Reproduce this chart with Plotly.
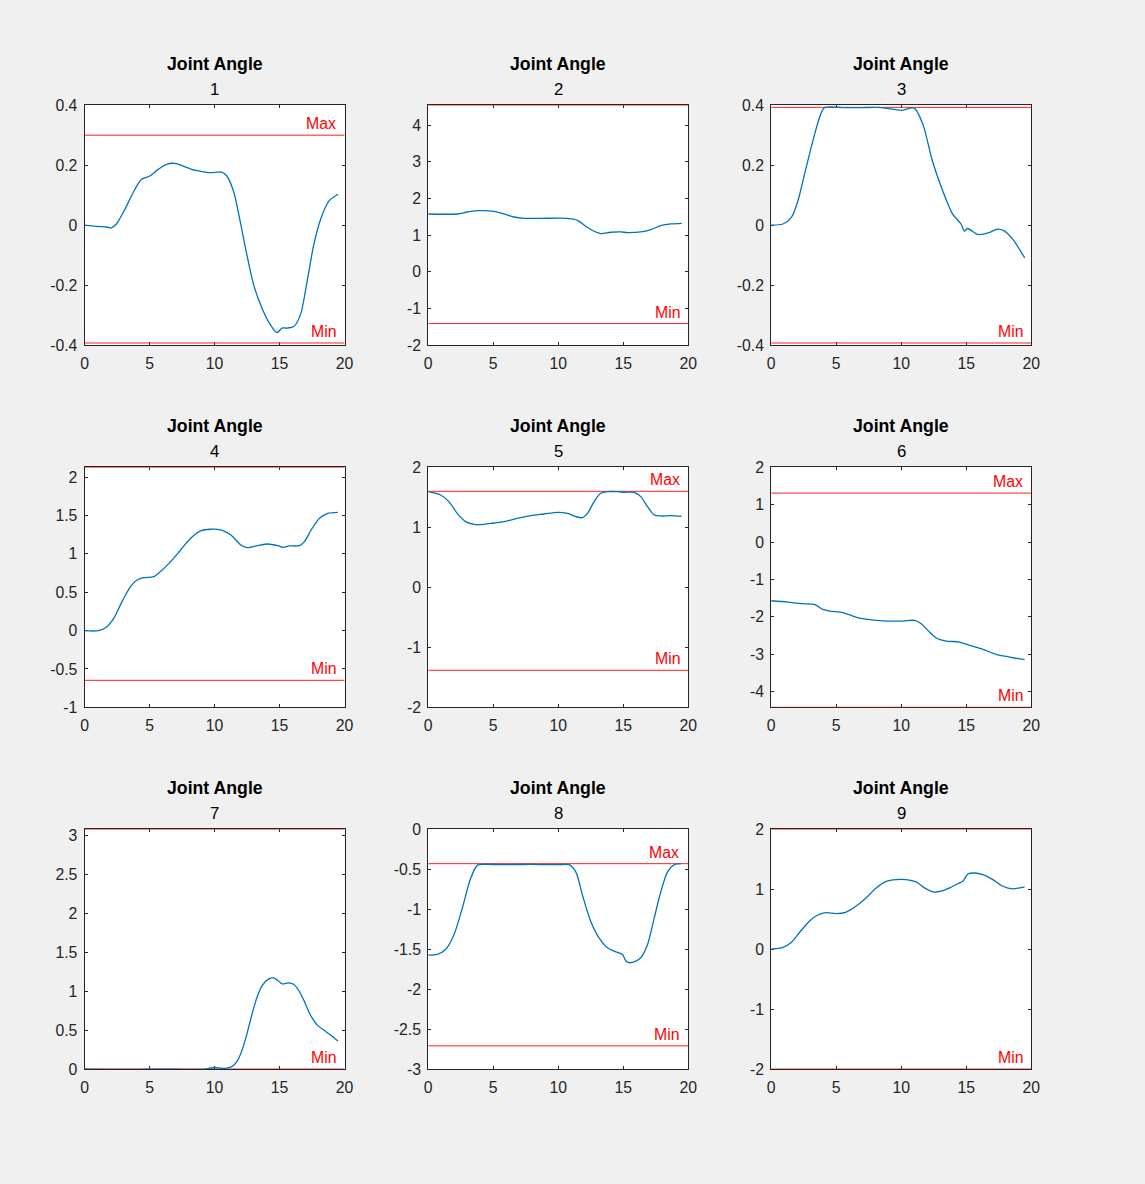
import plotly.graph_objects as go

W, H = 1145, 1184

# ---------------- data ----------------
t1 = [0, 0.9, 1.67, 2.06, 2.45, 3.09, 3.73, 4.38, 5.02, 5.66, 6.3, 6.95, 7.59, 8.24, 8.88, 9.65, 10.55, 10.94, 11.45,
      11.97, 12.48, 13.0, 13.64, 14.29, 14.8, 15.19, 15.57, 16.09, 16.6, 17.12, 17.63, 18.15, 18.79, 19.5]
q1 = [0, -0.004, -0.006, -0.009, 0.004, 0.052, 0.108, 0.153, 0.164, 0.186, 0.203, 0.206, 0.197, 0.186, 0.18, 0.175,
      0.177, 0.164, 0.114, 0.013, -0.098, -0.198, -0.276, -0.332, -0.358, -0.343, -0.343, -0.338, -0.299, -0.187,
      -0.065, 0.019, 0.08, 0.103]

t2 = [0, 2.23, 3.0, 3.77, 5.06, 5.83, 6.6, 7.37, 8.65, 10.71, 11.48, 12.12, 12.76, 13.27, 14.04, 14.81, 15.33, 16.35,
      17.12, 17.89, 18.66, 19.5]
q2 = [1.575, 1.575, 1.629, 1.665, 1.647, 1.575, 1.493, 1.457, 1.457, 1.457, 1.403, 1.24, 1.104, 1.041, 1.077, 1.086,
      1.068, 1.086, 1.149, 1.258, 1.303, 1.321]

t3 = [0, 0.9, 1.54, 2.05, 2.56, 3.2, 3.72, 4.1, 5.5, 7.0, 8.5, 10.0, 11.0, 11.67, 12.4, 13.2, 13.97, 14.6, 14.87, 15.1,
      15.9, 16.7, 17.4, 17.9, 18.6, 19.5]
q3 = [0, 0.004, 0.025, 0.08, 0.169, 0.28, 0.359, 0.392, 0.392, 0.392, 0.392, 0.383, 0.39, 0.336, 0.214, 0.114, 0.036,
      0.004, -0.02, -0.011, -0.031, -0.026, -0.013, -0.018, -0.048, -0.109]

t4 = [0, 1.08, 1.72, 2.24, 2.88, 3.53, 4.04, 4.56, 5.33, 5.84, 6.62, 7.39, 8.16, 8.93, 9.7, 10.48, 11.25, 12.02, 12.54,
      13.31, 14.08, 14.85, 15.24, 15.75, 16.53, 16.91, 17.43, 18.07, 18.71, 19.48]
q4 = [0, 0, 0.052, 0.16, 0.378, 0.574, 0.66, 0.69, 0.704, 0.77, 0.9, 1.052, 1.204, 1.3, 1.322, 1.313, 1.248, 1.117,
      1.083, 1.109, 1.13, 1.109, 1.087, 1.104, 1.109, 1.161, 1.313, 1.465, 1.53, 1.543]

t5 = [0, 0.95, 1.59, 2.23, 2.88, 3.52, 4.29, 5.06, 5.83, 6.85, 7.88, 8.91, 9.94, 10.71, 11.35, 11.86, 12.25, 12.76,
      13.27, 13.79, 14.56, 15.07, 15.84, 16.35, 16.87, 17.38, 17.9, 18.67, 19.49]
q5 = [1.594, 1.539, 1.428, 1.233, 1.094, 1.05, 1.05, 1.072, 1.094, 1.15, 1.194, 1.222, 1.25, 1.233, 1.178, 1.161,
      1.233, 1.428, 1.567, 1.594, 1.594, 1.583, 1.583, 1.511, 1.344, 1.206, 1.189, 1.194, 1.183]

t6 = [0, 1.28, 2.31, 3.33, 3.97, 4.49, 5.51, 6.28, 7.05, 8.08, 9.1, 10.13, 11.03, 11.54, 12.05, 12.69, 13.46, 14.49,
      15.26, 16.28, 17.31, 18.33, 19.49]
q6 = [-1.569, -1.604, -1.649, -1.667, -1.8, -1.845, -1.889, -1.979, -2.05, -2.094, -2.112, -2.112, -2.094, -2.184,
      -2.362, -2.567, -2.647, -2.674, -2.763, -2.87, -3.004, -3.075, -3.146]

t7 = [0, 2, 4, 6, 8, 9.3, 10, 10.5, 10.96, 11.35, 11.73, 12.12, 12.5, 12.89, 13.27, 13.66, 14.17, 14.56, 14.94, 15.2,
      15.71, 16.1, 16.48, 16.87, 17.38, 17.9, 18.41, 18.92, 19.49]
q7 = [0, -0.005, -0.005, 0, -0.005, 0, 0.02, 0.01, 0.013, 0.034, 0.097, 0.246, 0.458, 0.712, 0.924, 1.072, 1.157,
      1.169, 1.127, 1.093, 1.106, 1.085, 1.008, 0.881, 0.691, 0.564, 0.5, 0.436, 0.36]

t8 = [0, 0.69, 1.33, 1.98, 2.62, 3.26, 3.77, 4.29, 6.08, 7.88, 9.94, 10.83, 11.35, 11.86, 12.5, 13.14, 13.79, 14.43,
      14.94, 15.2, 15.45, 15.97, 16.35, 16.87, 17.38, 17.89, 18.41, 18.92, 19.43]
q8 = [-1.576, -1.568, -1.506, -1.32, -0.99, -0.619, -0.454, -0.441, -0.446, -0.441, -0.446, -0.446, -0.536, -0.825,
      -1.155, -1.361, -1.485, -1.535, -1.568, -1.65, -1.671, -1.65, -1.609, -1.444, -1.114, -0.784, -0.536, -0.446,
      -0.433]

t9 = [0, 0.9, 1.54, 2.18, 2.95, 3.59, 4.23, 5.0, 5.77, 6.54, 7.31, 8.08, 8.85, 9.62, 10.38, 11.15, 11.79, 12.44, 13.08,
      13.72, 14.36, 14.74, 15.13, 15.64, 16.28, 17.05, 17.82, 18.59, 19.1, 19.49]
q9 = [0, 0.028, 0.11, 0.275, 0.468, 0.567, 0.606, 0.59, 0.617, 0.716, 0.854, 1.019, 1.129, 1.157, 1.157, 1.118, 1.019,
      0.953, 0.964, 1.019, 1.091, 1.129, 1.251, 1.267, 1.24, 1.157, 1.047, 1.003, 1.019, 1.036]

times = [t1, t2, t3, t4, t5, t6, t7, t8, t9]
angles = [q1, q2, q3, q4, q5, q6, q7, q8, q9]

joint_max = [0.3, 4.54, 0.3927, 2.13, 1.6, 1.31, 3.08, -0.433, 2.0]
joint_min = [-0.3927, -1.41, -0.3927, -0.648, -1.383, -4.42, 0.0, -2.71, -2.0]
show_max_label = [True, False, False, False, True, True, False, True, False]

y_ranges = [[-0.4, 0.4], [-2, 4.54], [-0.4, 0.4], [-1, 2.13], [-2, 2], [-4.42, 2], [0, 3.08], [-3, 0], [-2, 2]]
y_tickvals = [
    [-0.4, -0.2, 0, 0.2, 0.4],
    [-2, -1, 0, 1, 2, 3, 4],
    [-0.4, -0.2, 0, 0.2, 0.4],
    [-1, -0.5, 0, 0.5, 1, 1.5, 2],
    [-2, -1, 0, 1, 2],
    [-4, -3, -2, -1, 0, 1, 2],
    [0, 0.5, 1, 1.5, 2, 2.5, 3],
    [-3, -2.5, -2, -1.5, -1, -0.5, 0],
    [-2, -1, 0, 1, 2],
]
y_ticktext = [
    ["-0.4", "-0.2", "0", "0.2", "0.4"],
    ["-2", "-1", "0", "1", "2", "3", "4"],
    ["-0.4", "-0.2", "0", "0.2", "0.4"],
    ["-1", "-0.5", "0", "0.5", "1", "1.5", "2"],
    ["-2", "-1", "0", "1", "2"],
    ["-4", "-3", "-2", "-1", "0", "1", "2"],
    ["0", "0.5", "1", "1.5", "2", "2.5", "3"],
    ["-3", "-2.5", "-2", "-1.5", "-1", "-0.5", "0"],
    ["-2", "-1", "0", "1", "2"],
]
x_range = [0, 20]
x_tickvals = [0, 5, 10, 15, 20]
x_ticktext = ["0", "5", "10", "15", "20"]
titles = ["Joint Angle"] * 9
subtitles = ["1", "2", "3", "4", "5", "6", "7", "8", "9"]

# ---------------- layout geometry (page pixels) ----------------
col_left = [81.5, 429.1, 776.0]
row_top = [98.6, 466.0, 833.0]
pw, ph = 263.0, 243.5

FONT = "Liberation Sans, Arial, Helvetica, sans-serif"
AX = "#262626"
BLUE = "#0072BD"
RED = "#ff2020"

fig = go.Figure()
layout = dict(
    width=W, height=H, autosize=False,
    margin=dict(l=0, r=0, t=0, b=0),
    paper_bgcolor="#f0f0f0", plot_bgcolor="white",
    showlegend=False,
    font=dict(family=FONT, color=AX, size=15),
    annotations=[],
)

for i in range(9):
    r, c = divmod(i, 3)
    n = i + 1
    xa = "xaxis" if n == 1 else f"xaxis{n}"
    ya = "yaxis" if n == 1 else f"yaxis{n}"
    xr = "x" if n == 1 else f"x{n}"
    yr = "y" if n == 1 else f"y{n}"
    x0 = col_left[c] / W
    x1 = (col_left[c] + pw) / W
    y1 = 1 - row_top[r] / H
    y0 = 1 - (row_top[r] + ph) / H
    common = dict(showgrid=False, zeroline=False, showline=True, linecolor=AX, linewidth=1,
                  mirror="ticks", ticks="inside", ticklen=3, tickcolor=AX, tickwidth=1,
                  tickfont=dict(family=FONT, size=15.8, color=AX), layer="below traces", fixedrange=True)
    layout[xa] = dict(domain=[x0, x1], anchor=yr, range=x_range, tickmode="array",
                      tickvals=x_tickvals, ticktext=x_ticktext, ticklabelstandoff=4, **common)
    layout[ya] = dict(domain=[y0, y1], anchor=xr, range=y_ranges[i], tickmode="array",
                      tickvals=y_tickvals[i], ticktext=y_ticktext[i], ticklabelstandoff=3, **common)

    t = times[i]
    q = angles[i]
    fig.add_trace(go.Scatter(x=x_range, y=[joint_max[i]] * 2, mode="lines",
                             line=dict(color=RED, width=1), xaxis=xr, yaxis=yr, hoverinfo="skip"))
    fig.add_trace(go.Scatter(x=x_range, y=[joint_min[i]] * 2, mode="lines",
                             line=dict(color=RED, width=1), xaxis=xr, yaxis=yr, hoverinfo="skip"))
    fig.add_trace(go.Scatter(x=t, y=q, mode="lines",
                             line=dict(color=BLUE, width=1.3, shape="spline", smoothing=0.8),
                             xaxis=xr, yaxis=yr))

    cx = (col_left[c] + pw / 2) / W
    layout["annotations"].append(dict(text="<b>" + titles[i] + "</b>", xref="paper", yref="paper",
                                      x=cx, y=1 - (row_top[r] - 41.6) / H, xanchor="center", yanchor="middle",
                                      showarrow=False, font=dict(family=FONT, size=17.7, color="#000000")))
    layout["annotations"].append(dict(text=subtitles[i], xref="paper", yref="paper",
                                      x=cx, y=1 - (row_top[r] - 16.2) / H, xanchor="center", yanchor="middle",
                                      showarrow=False, font=dict(family=FONT, size=16.8, color="#000000")))
    if show_max_label[i]:
        layout["annotations"].append(dict(text="Max", xref=xr, yref=yr, x=t[-1], y=joint_max[i],
                                          xanchor="right", yanchor="bottom", yshift=1, showarrow=False,
                                          font=dict(family=FONT, size=15.8, color="red")))
    layout["annotations"].append(dict(text="Min", xref=xr, yref=yr, x=t[-1], y=joint_min[i],
                                      xanchor="right", yanchor="bottom", yshift=1, showarrow=False,
                                      font=dict(family=FONT, size=15.8, color="red")))

fig.update_layout(**layout)
fig.write_html("out.html",
               config={"displayModeBar": False},
               post_script="document.body.style.margin='0';document.body.style.overflow='hidden';")
